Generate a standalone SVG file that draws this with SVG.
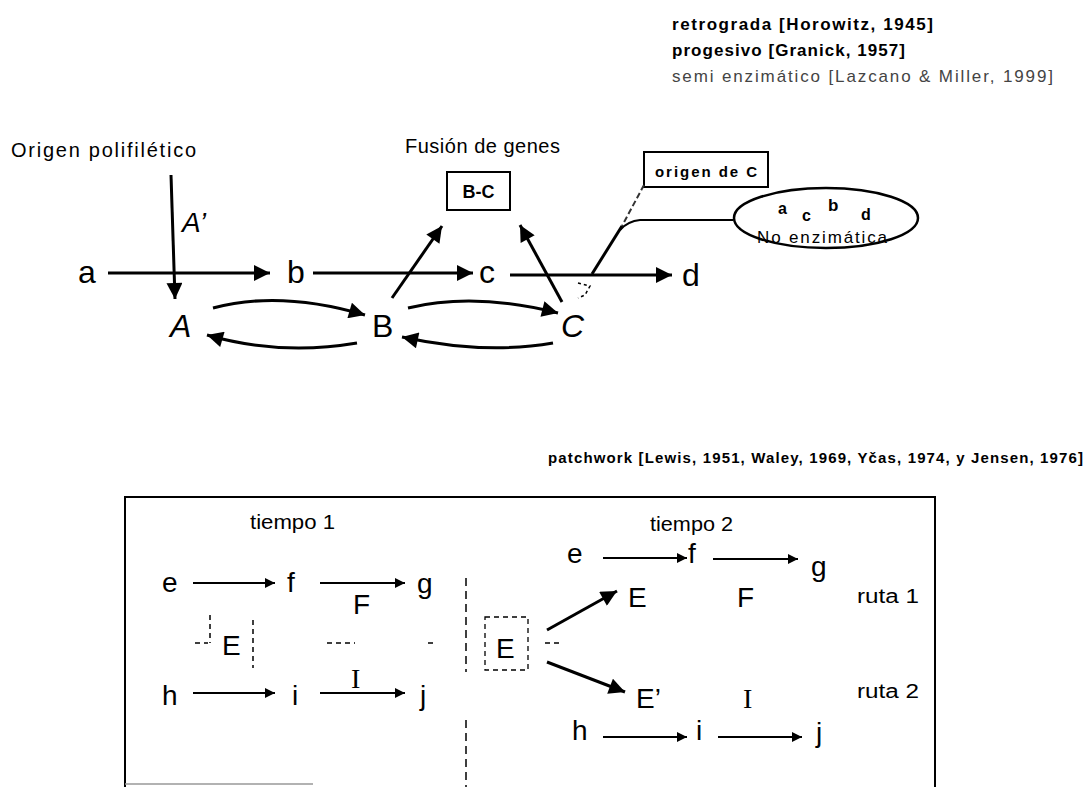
<svg xmlns="http://www.w3.org/2000/svg" width="1090" height="787" viewBox="0 0 1090 787">
<defs>
<style>
text{font-family:"Liberation Sans","DejaVu Sans",sans-serif;fill:#000}
.ref{font-size:17px;font-weight:bold}
.big{font-size:32px}
.mid{font-size:28px}
.lab{font-size:20px}
.sm{font-size:20px}
.line{stroke:#000;stroke-width:3;fill:none}
.thin{stroke:#000;stroke-width:2;fill:none}
.dash{stroke:#000;stroke-width:1.5;fill:none;stroke-dasharray:5 4}
.box{fill:#fff;stroke:#000;stroke-width:2}
</style>
<marker id="ah" viewBox="0 0 10 10" refX="10" refY="5" markerUnits="userSpaceOnUse" markerWidth="22" markerHeight="16" orient="auto"><path d="M0,0 L10,5 L0,10 z" fill="#000"/></marker>
<marker id="as" viewBox="0 0 10 10" refX="10" refY="5" markerUnits="userSpaceOnUse" markerWidth="13" markerHeight="10" orient="auto"><path d="M0,0 L10,5 L0,10 z" fill="#000"/></marker>
</defs>
<rect width="1090" height="787" fill="#fff"/>

<g id="refs">
<text class="ref" x="672" y="30" textLength="261">retrograda [Horowitz, 1945]</text>
<text class="ref" x="672" y="56" textLength="233">progesivo [Granick, 1957]</text>
<text class="ref" x="672" y="82" textLength="381" style="font-weight:normal;fill:#444">semi enzimático [Lazcano &amp; Miller, 1999]</text>
</g>

<g id="titles">
<text class="lab" x="11" y="157" textLength="185">Origen polifilético</text>
<text class="lab" x="405" y="153" textLength="155">Fusión de genes</text>
</g>

<g id="node-a"><text class="big" x="78" y="283">a</text></g>
<g id="node-b"><text class="big" x="287" y="283">b</text></g>
<g id="node-c"><text class="big" x="479" y="283">c</text></g>
<g id="node-d"><text class="big" x="682" y="286">d</text></g>
<g id="node-A"><text class="big" x="170" y="337" font-style="italic">A</text></g>
<g id="node-B"><text class="big" x="372" y="337">B</text></g>
<g id="node-C"><text class="big" x="561" y="337" font-style="italic">C</text></g>
<g id="label-Aprime"><text class="mid" x="182" y="232" font-style="italic">A’</text></g>

<g id="node-BC">
<rect class="box" x="447" y="172" width="63" height="38"/>
<text x="478.5" y="198" text-anchor="middle" style="font-size:18px;font-weight:bold">B-C</text>
</g>

<g id="node-origenC">
<rect class="box" x="644" y="152" width="124" height="35"/>
<text x="655" y="177" textLength="102" style="font-size:15px;font-weight:bold">origen de C</text>
</g>

<g id="node-noenz">
<ellipse cx="826" cy="218" rx="92" ry="30" fill="#fff" stroke="#000" stroke-width="2.5"/>
<text x="778" y="214" style="font-size:16px;font-weight:bold">a</text>
<text x="802" y="221" style="font-size:16px;font-weight:bold">c</text>
<text x="828" y="211" style="font-size:17px;font-weight:bold">b</text>
<text x="861" y="220" style="font-size:16px;font-weight:bold">d</text>
<text x="757" y="243" textLength="130" style="font-size:17px">No enzimática</text>
</g>

<g id="connectors-top">
<line class="line" x1="108" y1="273" x2="270" y2="273" marker-end="url(#ah)"/>
<line class="line" x1="313" y1="273" x2="473" y2="273" marker-end="url(#ah)"/>
<line class="line" x1="510" y1="275" x2="672" y2="275" marker-end="url(#ah)"/>
<path class="line" d="M171,175 L175,299" marker-end="url(#ah)"/>
<path class="line" d="M213,308 Q280,290 365,315" marker-end="url(#ah)"/>
<path class="line" d="M357,343 Q280,356 207,335" marker-end="url(#ah)"/>
<path class="line" d="M408,308 Q475,292 558,313" marker-end="url(#ah)"/>
<path class="line" d="M553,343 Q485,355 402,337" marker-end="url(#ah)"/>
<line class="line" x1="392" y1="298" x2="442" y2="226" marker-end="url(#ah)"/>
<line class="line" x1="562" y1="302" x2="520" y2="225" marker-end="url(#ah)"/>
<path d="M644,185 L622,226" stroke="#333" stroke-width="2" stroke-dasharray="6 3" fill="none"/>
<path class="line" d="M622,226 L592,274"/>
<path d="M733,220 L640,220 Q628,221 620,230" stroke="#000" stroke-width="2" fill="none"/>
<path d="M578,283 L590,286 L585,295 L578,298" stroke="#000" stroke-width="1.5" stroke-dasharray="3 3" fill="none"/>
</g>

<g id="patchwork-title">
<text x="548" y="463" textLength="535" style="font-size:15px;font-weight:bold">patchwork [Lewis, 1951, Waley, 1969, Yčas, 1974, y Jensen, 1976]</text>
</g>

<g id="frame">
<path d="M125,787 L125,497 L935,497 L935,787" stroke="#000" stroke-width="2" fill="none"/>
<line x1="125" y1="784" x2="313" y2="784" stroke="#999" stroke-width="1.5"/>
<path d="M466,578 L466,672 M466,720 L466,787" stroke="#000" stroke-width="1.5" stroke-dasharray="8 5" fill="none"/>
</g>

<g id="time1">
<text class="sm" x="250" y="529" textLength="85" lengthAdjust="spacingAndGlyphs">tiempo 1</text>
<text class="mid" x="162" y="592">e</text>
<text class="mid" x="287" y="592">f</text>
<text class="mid" x="417" y="593">g</text>
<text class="mid" x="353" y="614">F</text>
<text class="mid" x="222" y="655">E</text>
<text class="mid" x="162" y="705">h</text>
<text class="mid" x="292" y="705">i</text>
<text x="351" y="688" style="font-family:'Liberation Serif',serif;font-size:28px">I</text>
<text class="mid" x="420" y="705">j</text>
</g>

<g id="time2">
<text class="sm" x="650" y="531" textLength="83" lengthAdjust="spacingAndGlyphs">tiempo 2</text>
<text class="mid" x="567" y="563">e</text>
<text class="mid" x="688" y="563">f</text>
<text class="mid" x="811" y="576">g</text>
<text class="mid" x="628" y="607">E</text>
<text class="mid" x="737" y="607">F</text>
<rect x="485" y="617" width="43" height="53" stroke="#000" stroke-width="1.3" stroke-dasharray="5 4" fill="none"/>
<text class="mid" x="496" y="658">E</text>
<text class="mid" x="636" y="708">E’</text>
<text x="743" y="708" style="font-family:'Liberation Serif',serif;font-size:28px">I</text>
<text class="mid" x="572" y="740">h</text>
<text class="mid" x="696" y="740">i</text>
<text class="mid" x="816" y="742">j</text>
<text class="sm" x="857" y="603" textLength="62" lengthAdjust="spacingAndGlyphs">ruta 1</text>
<text class="sm" x="857" y="698" textLength="62" lengthAdjust="spacingAndGlyphs">ruta 2</text>
</g>

<g id="connectors-bottom">
<line class="thin" x1="193" y1="583" x2="275" y2="583" marker-end="url(#as)"/>
<line class="thin" x1="320" y1="583" x2="405" y2="583" marker-end="url(#as)"/>
<line class="thin" x1="193" y1="693" x2="275" y2="693" marker-end="url(#as)"/>
<line class="thin" x1="320" y1="693" x2="405" y2="693" marker-end="url(#as)"/>
<line class="thin" x1="603" y1="558" x2="687" y2="558" marker-end="url(#as)"/>
<line class="thin" x1="713" y1="559" x2="798" y2="559" marker-end="url(#as)"/>
<line class="thin" x1="603" y1="737" x2="687" y2="737" marker-end="url(#as)"/>
<line class="thin" x1="718" y1="737" x2="802" y2="737" marker-end="url(#as)"/>
<line class="line" x1="547" y1="630" x2="617" y2="591" marker-end="url(#ah)"/>
<line class="line" x1="547" y1="662" x2="625" y2="692" marker-end="url(#ah)"/>
<path class="dash" d="M210,615 L210,643 M195,643 L208,643 M253,620 L253,668 M327,643 L355,643 M428,643 L433,643 M545,643 L560,643"/>
</g>
</svg>
